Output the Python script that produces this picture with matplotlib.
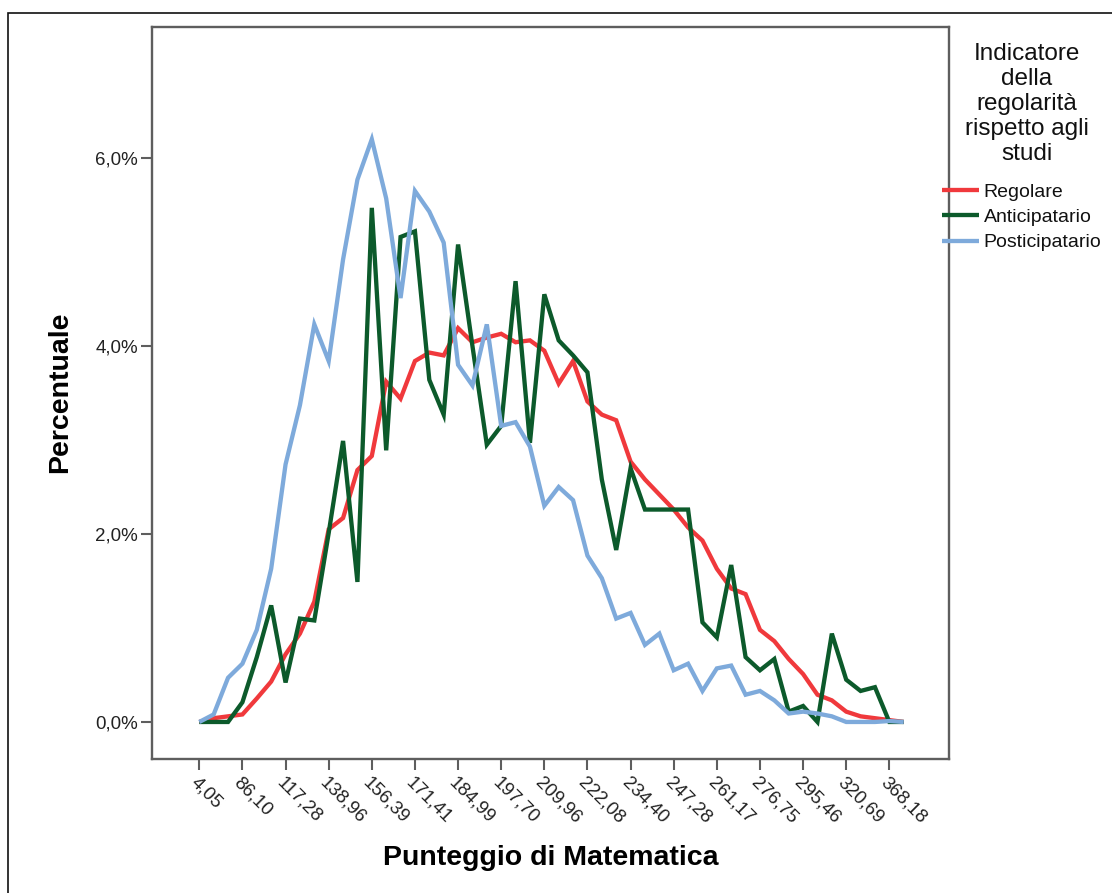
import matplotlib
matplotlib.use("Agg")
import matplotlib.pyplot as plt
from matplotlib.patches import Rectangle
import numpy as np

plt.rcParams['font.family'] = ['Liberation Sans', 'DejaVu Sans']

# ---- data (percent values) ----
tick_labels = ["4,05", "86,10", "117,28", "138,96", "156,39", "171,41", "184,99",
               "197,70", "209,96", "222,08", "234,40", "247,28", "261,17",
               "276,75", "295,46", "320,69", "368,18"]
tick_step = 3

regolare = [0, 0.04, 0.06, 0.08, 0.25, 0.43, 0.72, 0.94, 1.28, 2.05,
            2.17, 2.68, 2.83, 3.62, 3.44, 3.84, 3.93, 3.90, 4.19, 4.04,
            4.09, 4.13, 4.04, 4.06, 3.95, 3.60, 3.84, 3.41, 3.27, 3.21,
            2.77, 2.58, 2.42, 2.26, 2.07, 1.93, 1.63, 1.42, 1.36, 0.98,
            0.86, 0.67, 0.51, 0.29, 0.23, 0.11, 0.06, 0.04, 0.02, 0]

anticipatario = [0, 0, 0, 0.21, 0.69, 1.24, 0.42, 1.10, 1.08, 2.01,
                 2.99, 1.49, 5.47, 2.89, 5.16, 5.22, 3.64, 3.27, 5.08, 4.00,
                 2.95, 3.15, 4.69, 2.97, 4.55, 4.06, 3.90, 3.72, 2.58, 1.83,
                 2.70, 2.26, 2.26, 2.26, 2.26, 1.06, 0.90, 1.67, 0.69, 0.55,
                 0.67, 0.11, 0.17, 0.0, 0.94, 0.45, 0.33, 0.37, 0, 0]

posticipatario = [0, 0.08, 0.47, 0.62, 0.98, 1.63, 2.74, 3.37, 4.23, 3.84,
                  4.92, 5.77, 6.20, 5.57, 4.51, 5.65, 5.43, 5.10, 3.80, 3.58,
                  4.23, 3.15, 3.19, 2.93, 2.30, 2.50, 2.36, 1.77, 1.53, 1.10,
                  1.16, 0.82, 0.94, 0.55, 0.62, 0.33, 0.57, 0.60, 0.29, 0.33,
                  0.23, 0.09, 0.11, 0.09, 0.06, 0, 0, 0, 0.01, 0]

series_names = ["Regolare", "Anticipatario", "Posticipatario"]
series_colors = ["#f0393c", "#0c5a2b", "#7eaadb"]

y_ticks = [0, 2, 4, 6]
y_tick_labels = ["0,0%", "2,0%", "4,0%", "6,0%"]

legend_title = "Indicatore\ndella\nregolarità\nrispetto agli\nstudi"
x_title = "Punteggio di Matematica"
y_title = "Percentuale"

# ---- figure ----
W, H = 1112, 893
fig = plt.figure(figsize=(W / 100, H / 100), dpi=100)

def fx(px):
    return px / W

def fy(py):
    return 1 - py / H

ax_l, ax_r, ax_t, ax_b = 152, 949, 27, 759
ax = fig.add_axes([fx(ax_l), fy(ax_b), fx(ax_r - ax_l), (ax_b - ax_t) / H])

# outer border (only left/top visible in the reference)
fig.patches.append(Rectangle((fx(8), -0.2), 2, fy(13) + 0.2, transform=fig.transFigure,
                             fill=False, edgecolor="#111111", linewidth=1.2))

x = np.arange(len(regolare))
lines = []
for vals, name, col in zip([regolare, anticipatario, posticipatario], series_names, series_colors):
    ln, = ax.plot(x, vals, color=col, linewidth=3.1, label=name,
                  solid_joinstyle="miter", solid_capstyle="butt")
    lines.append(ln)

ax.set_xlim(-3.29, 52.15)
ax.set_ylim(-0.394, 7.394)

ax.set_xticks(np.arange(0, len(tick_labels) * tick_step, tick_step))
ax.set_xticklabels(tick_labels, rotation=-45, ha="left", va="top",
                   rotation_mode="anchor", fontsize=13.5)
ax.set_yticks(y_ticks)
ax.set_yticklabels(y_tick_labels, fontsize=13.5)

for sp in ax.spines.values():
    sp.set_color("#5e5e5e")
    sp.set_linewidth(1.7)
ax.tick_params(axis="both", direction="out", length=8, width=1.5, color="#5e5e5e",
               labelcolor="#222222")
ax.tick_params(axis="x", pad=3)
ax.tick_params(axis="y", pad=2)

fig.text(fx(551), fy(858), x_title, ha="center", va="center",
         fontsize=20.5, fontweight="bold")
fig.text(fx(60), fy(392), y_title, ha="center", va="center", rotation=90,
         fontsize=20.5, fontweight="bold")

fig.text(fx(1027), fy(43), legend_title, ha="center", va="top",
         fontsize=17.5, linespacing=1.17, multialignment="center", color="#111111")

leg = ax.legend(handles=lines, loc="upper left",
                bbox_to_anchor=(fx(942), fy(183)), bbox_transform=fig.transFigure,
                frameon=False, fontsize=14, handlelength=1.9, handletextpad=0.25,
                labelspacing=0.4, borderpad=0, borderaxespad=0)
for t in leg.get_texts():
    t.set_color("#111111")

fig.savefig("out.png", dpi=100)
